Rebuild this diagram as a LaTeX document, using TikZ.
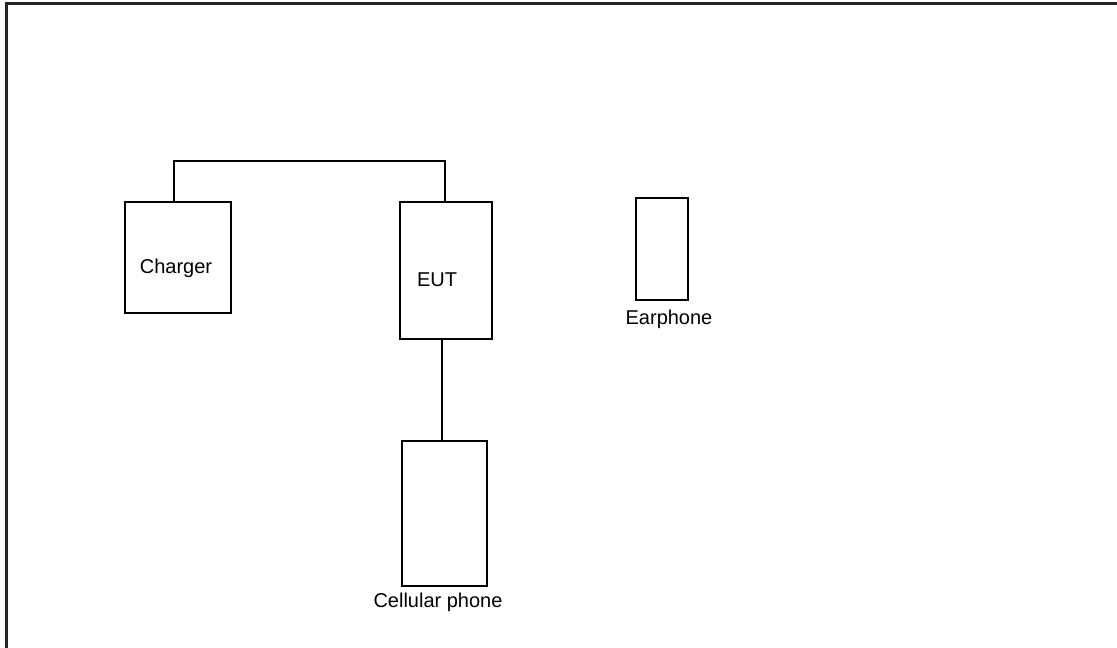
\documentclass[tikz,border=0pt]{standalone}
\usepackage{fontspec}
\setmainfont{Liberation Sans}
\begin{document}
\begin{tikzpicture}[x=1pt,y=-1pt,
  devbox/.style={draw=black,line width=2pt,inner sep=0pt,fill=none},
  lbl/.style={font=\fontsize{20}{24}\selectfont,inner sep=0pt,anchor=base},
  wire/.style={draw=black,line width=2pt}]
\useasboundingbox (0,0) rectangle (1117,648);
% frame
\draw[line width=3pt,black!85] (6,648) -- (6,3) -- (1117,3);
% boxes
\node[devbox,minimum width=106pt,minimum height=111pt] (ch) at (178,257.5) {};
\node[devbox,minimum width=92pt,minimum height=137pt] (eut) at (446,270.5) {};
\node[devbox,minimum width=85pt,minimum height=145pt] (cell) at (444.5,513.5) {};
\node[devbox,minimum width=52pt,minimum height=102pt] (ear) at (662,249) {};
% labels
\node[lbl] (chl) at (176,273) {Charger};
\node[lbl] (eutl) at (437,286) {EUT};
\node[lbl] (earl) at (669,324) {Earphone};
\node[lbl] (celll) at (438,607) {Cellular phone};
% connectors
\draw[wire] ([xshift=-4pt]ch.north) -- ++(0,-40) -| ([xshift=-1pt]eut.north);
\draw[wire] ([xshift=-4pt]eut.south) -- ([xshift=-4pt]eut.south |- cell.north);
\end{tikzpicture}
\end{document}
